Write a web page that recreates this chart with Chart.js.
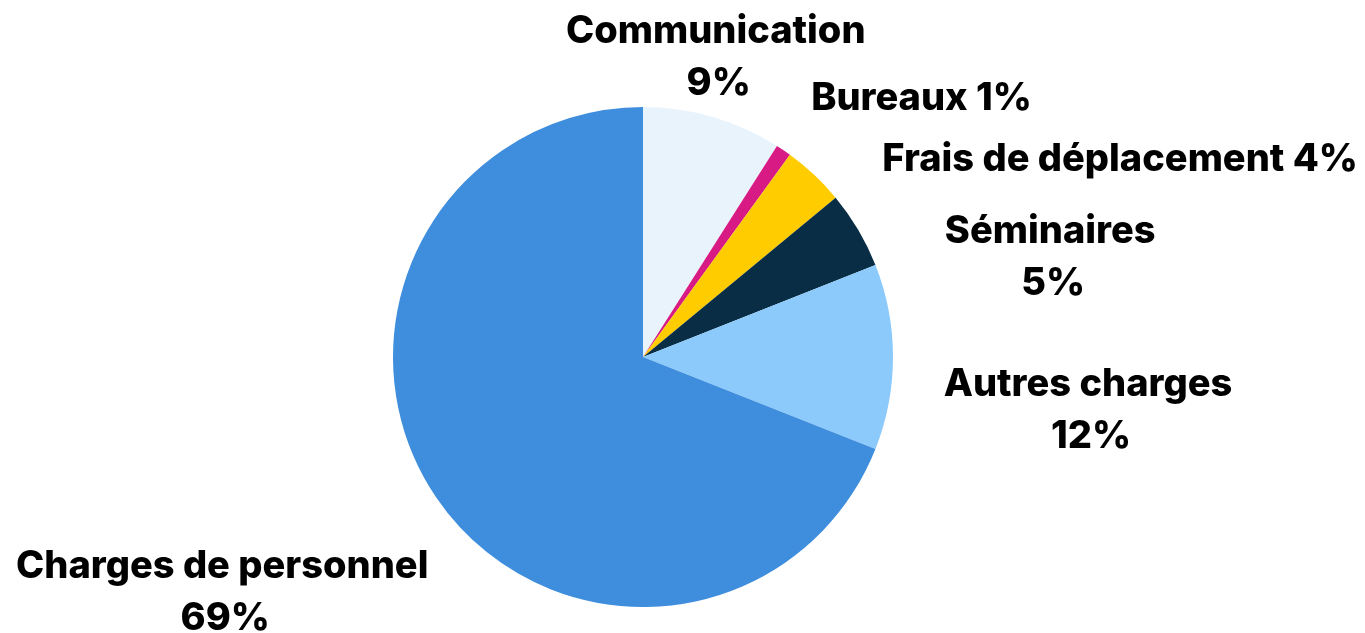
<!DOCTYPE html>
<html>
<head>
<meta charset="utf-8">
<script src="https://cdn.jsdelivr.net/npm/chart.js@4"></script>
<style>
  body { margin: 0; background: #fff; }
  #wrap { width: 1365px; height: 633px; position: relative; }
</style>
</head>
<body>
<div id="wrap"><canvas id="pie"></canvas></div>
<script>
// data
const categories = ["Communication", "Bureaux", "Frais de déplacement", "Séminaires", "Autres charges", "Charges de personnel"];
const shares = [9, 1, 4, 5, 12, 69];
const sliceColors = ["#e8f3fc", "#d81b84", "#ffcc00", "#082d44", "#8ccafc", "#3e8edd"];

// label placement: two lines or one, and nudge from the arc's outer mid point
const twoLines = [true, false, false, true, true, true];
const labelNudge = [[3, -59], [138, -52], [306, -15], [192, 28], [195, 54], [-214, 95]];

const outsideLabels = {
  id: "outsideLabels",
  afterDatasetsDraw(chart) {
    const ctx = chart.ctx;
    const meta = chart.getDatasetMeta(0);
    ctx.save();
    ctx.fillStyle = "#000";
    ctx.font = "800 38px Inter";
    ctx.textAlign = "center";
    ctx.textBaseline = "middle";
    meta.data.forEach((arc, i) => {
      const mid = (arc.startAngle + arc.endAngle) / 2;
      const x = arc.x + Math.cos(mid) * arc.outerRadius + labelNudge[i][0];
      const y = arc.y + Math.sin(mid) * arc.outerRadius + labelNudge[i][1];
      const pct = shares[i] + "%";
      if (twoLines[i]) {
        ctx.fillText(categories[i], x, y - 26);
        ctx.fillText(pct, x + 3, y + 26);
      } else {
        ctx.fillText(categories[i] + " " + pct, x, y);
      }
    });
    ctx.restore();
  }
};

new Chart(document.getElementById("pie"), {
  type: "pie",
  data: {
    labels: categories,
    datasets: [{
      data: shares,
      backgroundColor: sliceColors,
      borderWidth: 0
    }]
  },
  options: {
    responsive: true,
    maintainAspectRatio: false,
    animation: false,
    layout: { padding: { top: 107, bottom: 26, left: 0, right: 79 } },
    plugins: {
      legend: { display: false },
      tooltip: { enabled: false }
    }
  },
  plugins: [outsideLabels]
});
</script>
</body>
</html>
